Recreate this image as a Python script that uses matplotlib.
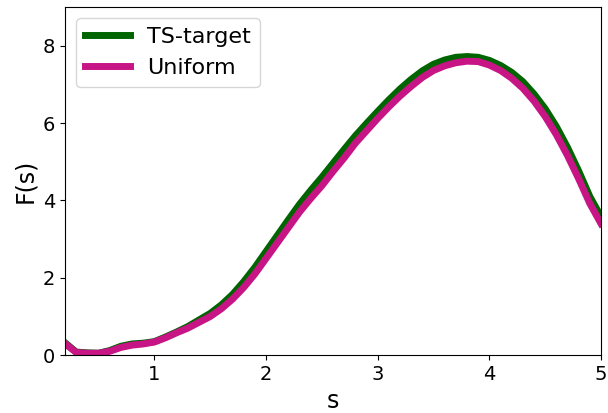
import numpy as np
import matplotlib.pyplot as plt

s = np.round(np.arange(0.2, 5.01, 0.1), 2)

# values
ts_target = [0.32, 0.08, 0.06, 0.05, 0.12, 0.23, 0.29, 0.31, 0.35, 0.47,
             0.60, 0.74, 0.91, 1.08, 1.30, 1.57, 1.90, 2.27, 2.68, 3.09,
             3.50, 3.90, 4.26, 4.60, 4.96, 5.32, 5.67, 5.99, 6.30, 6.60,
             6.88, 7.13, 7.35, 7.52, 7.63, 7.70, 7.72, 7.70, 7.62, 7.49,
             7.31, 7.07, 6.75, 6.37, 5.91, 5.37, 4.76, 4.10, 3.58]
uniform = [0.30, 0.07, 0.05, 0.05, 0.10, 0.20, 0.26, 0.29, 0.34, 0.45,
           0.58, 0.70, 0.85, 1.00, 1.20, 1.45, 1.75, 2.10, 2.50, 2.90,
           3.30, 3.70, 4.05, 4.38, 4.75, 5.10, 5.48, 5.80, 6.12, 6.42,
           6.70, 6.95, 7.18, 7.36, 7.48, 7.56, 7.60, 7.59, 7.50, 7.36,
           7.16, 6.90, 6.57, 6.17, 5.70, 5.16, 4.56, 3.92, 3.40]

fig = plt.figure(figsize=(6.08, 4.13), dpi=100)
ax = fig.add_axes([0.107, 0.140, 0.8815, 0.843])

ax.plot(s, ts_target, color='darkgreen', lw=5, label='TS-target',
        solid_joinstyle='round')
ax.plot(s, uniform, color='mediumvioletred', lw=5, label='Uniform',
        solid_joinstyle='round')

ax.set_xlim(0.2, 5)
ax.set_ylim(0, 9)
ax.set_xticks([1, 2, 3, 4, 5])
ax.set_yticks([0, 2, 4, 6, 8])
ax.tick_params(labelsize=14)
ax.set_xlabel('s', fontsize=17)
ax.set_ylabel('F(s)', fontsize=17)
ax.legend(loc='upper left', fontsize=16)

fig.savefig('out.png', dpi=100)
